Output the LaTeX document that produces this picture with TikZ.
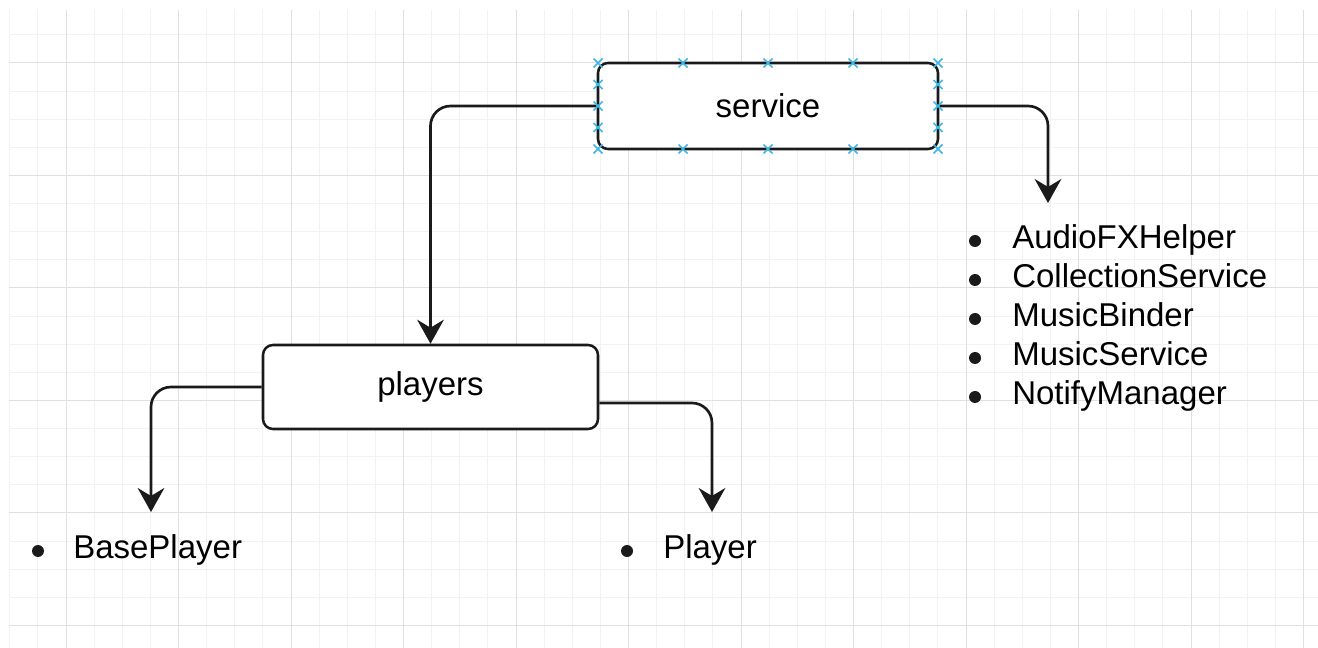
\documentclass[tikz,border=0pt]{standalone}
\usepackage{fontspec}
\setmainfont{Liberation Sans}
\usetikzlibrary{arrows.meta}
\definecolor{selblue}{HTML}{3DB7E4}
\definecolor{ink}{HTML}{1A1A1A}

\begin{document}
\begin{tikzpicture}[x=0.75pt,y=-0.75pt,
        box/.style={draw=ink,line width=1.9pt,rounded corners=7.5pt,fill=white,inner sep=0pt,
            font=\fontsize{24.75}{30}\selectfont},
        conn/.style={draw=ink,line width=2pt,rounded corners=15pt,
            -{Stealth[length=18pt,width=20pt,inset=6pt]}},
        item/.style={anchor=base west,inner sep=0pt,font=\fontsize{24.75}{30}\selectfont},
        minorline/.style={draw=black!5,line width=0.75pt},
        majorline/.style={draw=black!12,line width=0.75pt},
        sel/.style={draw=selblue,line width=1.1pt}]
        \fill[white] (0,0) rectangle (1318,648);
        \useasboundingbox (0,0) rectangle (1318,648);
        \begin{scope}
        \clip (9,10) rectangle (1318,648);
        \foreach \i in {0,...,46}
        \draw[minorline] ({9.75+28.125*\i},10) -- ({9.75+28.125*\i},648);
        \foreach \j in {1,...,22}
        \draw[minorline] (9,{6.75+28.125*\j}) -- (1318,{6.75+28.125*\j});
        \foreach \i in {2,6,...,46}
        \draw[majorline] ({9.75+28.125*\i},10) -- ({9.75+28.125*\i},648);
        \foreach \j in {2,6,...,22}
        \draw[majorline] (9,{6.75+28.125*\j}) -- (1318,{6.75+28.125*\j});
        \end{scope}

        \node[box,minimum width=255pt,minimum height=64.5pt] (service) at (768,106) {service};
        \node[box,minimum width=251.25pt,minimum height=63pt] (players) at (430.5,387) {players};

        \coordinate (svcTip) at (1048,203);
        \coordinate (baseTip) at (151,512);
        \coordinate (playerTip) at (712,512);
        \coordinate (pOut) at ([yshift=-12pt]players.east);

        \draw[conn] (service.west) -| (players.north);
        \draw[conn] (service.east) -| (svcTip);
        \draw[conn] (players.west) -| (baseTip);
        \draw[conn] (pOut) -| (playerTip);

        \foreach \mx in {598,683,768,853,938}
        \draw[sel] (\mx,63) +(-4.5,-4.5) -- +(4.5,4.5) +(-4.5,4.5) -- +(4.5,-4.5)
            (\mx,149) +(-4.5,-4.5) -- +(4.5,4.5) +(-4.5,4.5) -- +(4.5,-4.5);
        \foreach \my in {84.5,106,127.5}
        \draw[sel] (598,\my) +(-4.5,-4.5) -- +(4.5,4.5) +(-4.5,4.5) -- +(4.5,-4.5)
            (938,\my) +(-4.5,-4.5) -- +(4.5,4.5) +(-4.5,4.5) -- +(4.5,-4.5);

        \foreach \t [count=\k] in {AudioFXHelper,CollectionService,MusicBinder,MusicService,NotifyManager} {
        \fill[ink] (975,{202+39*\k}) circle[radius=4.5pt];
        \node[item] (svc\k) at (1012,{210+39*\k}) {\t};
        }
        \fill[ink] (38,551) circle[radius=4.5pt];
        \node[item] (base) at (73,558) {BasePlayer};
        \fill[ink] (627,551) circle[radius=4.5pt];
        \node[item] (player) at (663,558) {Player};
\end{tikzpicture}
\end{document}
